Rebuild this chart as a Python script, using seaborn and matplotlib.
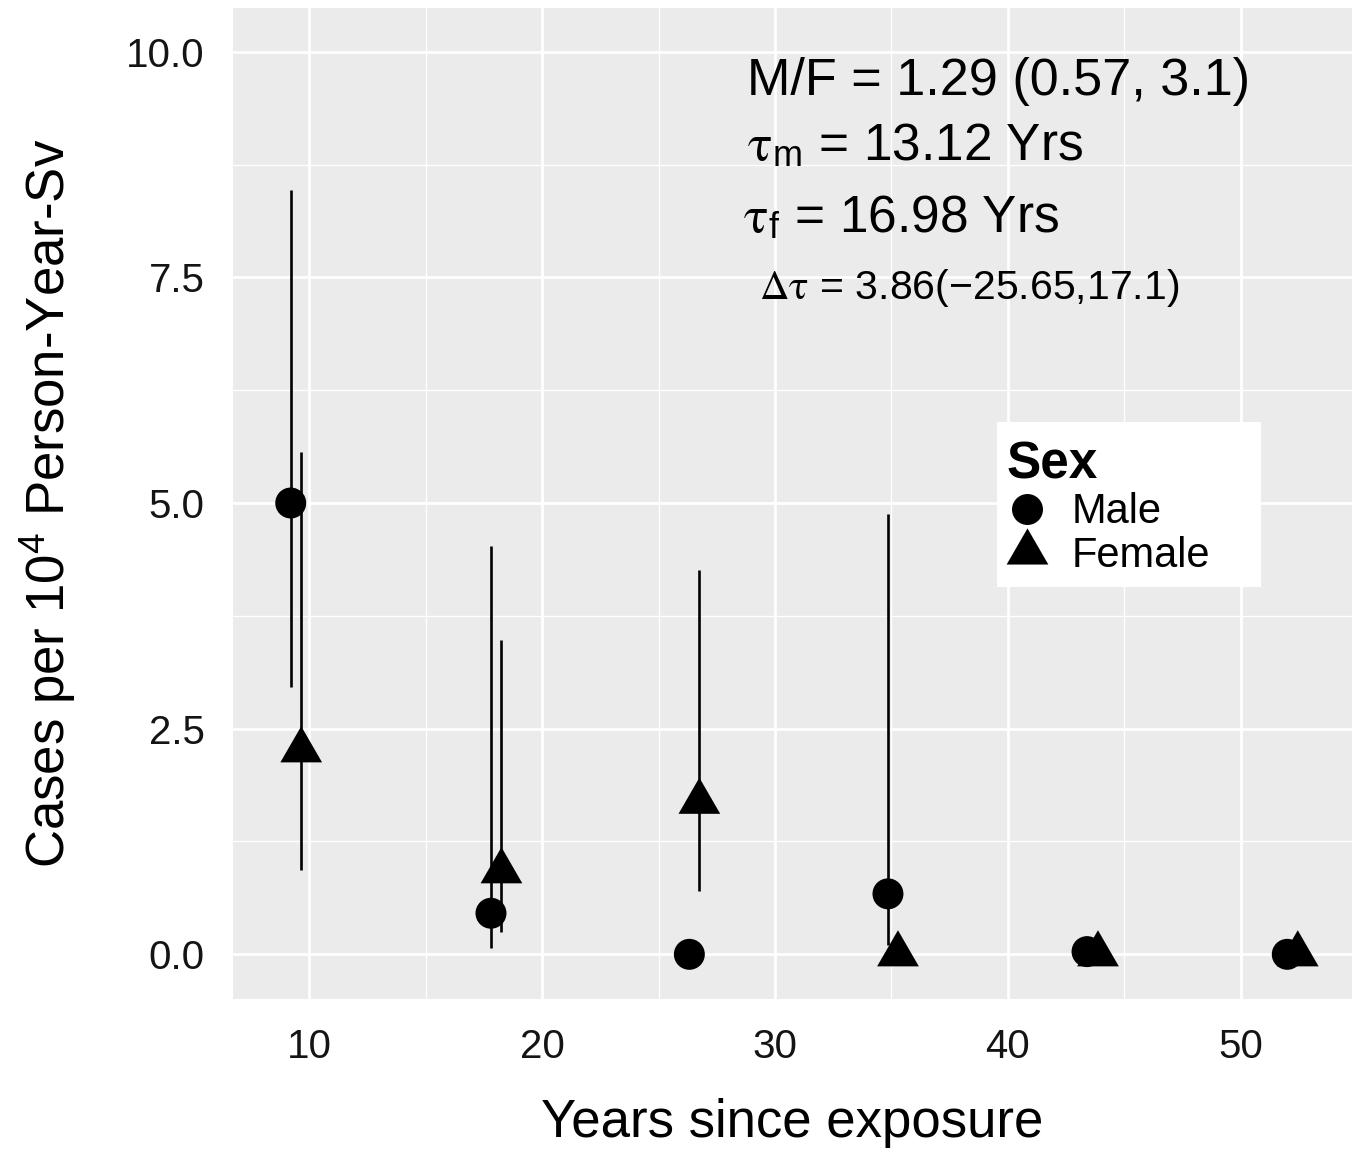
import numpy as np
import pandas as pd
import matplotlib
matplotlib.use("Agg")
import matplotlib.pyplot as plt
import seaborn as sns
from matplotlib.path import Path
from matplotlib.markers import MarkerStyle
from matplotlib.transforms import Affine2D
from matplotlib.lines import Line2D
from matplotlib.patches import Rectangle

# ---------------- data ----------------
sexes = ["Male", "Female"]
male_years = [9.20, 17.80, 26.32, 34.85, 43.40, 52.00]
male_rate = [5.00, 0.455, 0.00, 0.67, 0.03, 0.00]
male_lower = [2.96, 0.07, np.nan, 0.10, np.nan, np.nan]
male_upper = [8.47, 4.52, np.nan, 4.88, np.nan, np.nan]
female_years = [9.65, 18.25, 26.75, 35.28, 43.87, 52.45]
female_rate = [2.26, 0.92, 1.69, 0.00, 0.00, 0.00]
female_lower = [0.93, 0.25, 0.70, np.nan, np.nan, np.nan]
female_upper = [5.57, 3.48, 4.26, np.nan, np.nan, np.nan]

x_ticks = [10, 20, 30, 40, 50]
x_minor = [15, 25, 35, 45]
y_ticks = [0.0, 2.5, 5.0, 7.5, 10.0]
y_minor = [1.25, 3.75, 6.25, 8.75]
y_tick_labels = ["0.0", "2.5", "5.0", "7.5", "10.0"]

x_title = "Years since exposure"
y_title = r"Cases per 10$^{\mathdefault{4}}$ Person-Year-Sv"
legend_title = "Sex"
annot_mf = "M/F = 1.29 (0.57, 3.1)"
annot_tm = r"$\tau_{\mathdefault{m}}$ = 13.12 Yrs"
annot_tf = r"$\tau_{\mathdefault{f}}$ = 16.98 Yrs"
annot_dt = r"$\Delta\tau$ = 3.86(−25.65,17.1)"

# ---------------- style ----------------
sns.set_theme(style="darkgrid", rc={
    "axes.facecolor": "#EBEBEB",
    "grid.color": "white",
    "figure.facecolor": "white",
    "text.color": "black",
    "axes.labelcolor": "black",
})
plt.rcParams["font.family"] = ["Liberation Sans", "DejaVu Sans"]
plt.rcParams["mathtext.fontset"] = "stix"
plt.rcParams["mathtext.default"] = "rm"

df = pd.DataFrame({
    "Years": male_years + female_years,
    "Rate": male_rate + female_rate,
    "Sex": ["Male"] * len(male_years) + ["Female"] * len(female_years),
})

fig = plt.figure(figsize=(13.56, 11.49), dpi=100)
W, H = 1356, 1149
ax = fig.add_axes([233 / W, 1 - 999 / H, (1352 - 233) / W, (999 - 8) / H])

# equilateral triangle (centroid at the data point), like ggplot shape 17
s3 = np.sqrt(3)
tri_path = Path([(0, 1 / s3), (-0.5, -0.5 / s3), (0.5, -0.5 / s3), (0, 1 / s3)],
                [Path.MOVETO, Path.LINETO, Path.LINETO, Path.CLOSEPOLY])
circle_pt = 22.3
tri_marker = MarkerStyle(tri_path, transform=Affine2D().scale(34.7 / circle_pt))

# error bars
for xs, lo, hi in [(male_years, male_lower, male_upper),
                   (female_years, female_lower, female_upper)]:
    xs = np.asarray(xs); lo = np.asarray(lo); hi = np.asarray(hi)
    m = ~np.isnan(lo)
    ax.vlines(xs[m], lo[m], hi[m], colors="black", linewidth=1.9, zorder=2)

sns.scatterplot(data=df, x="Years", y="Rate", style="Sex",
                markers={"Male": "o", "Female": tri_marker},
                style_order=sexes, color="black", s=circle_pt ** 2,
                linewidth=0, legend=False, ax=ax, zorder=3)

ax.set_xlim(6.72, 54.78)
ax.set_ylim(-0.495, 10.484)
ax.set_xticks(x_ticks)
ax.set_xticklabels([str(v) for v in x_ticks])
ax.set_xticks(x_minor, minor=True)
ax.set_yticks(y_ticks)
ax.set_yticklabels(y_tick_labels)
ax.set_yticks(y_minor, minor=True)
ax.grid(which="major", color="white", linewidth=1.95)
ax.grid(which="minor", color="white", linewidth=0.95)
ax.set_axisbelow(True)
for sp in ax.spines.values():
    sp.set_visible(False)
ax.tick_params(which="minor", length=0)
ax.tick_params(which="major", length=8, width=1.4, color="#333333",
               labelsize=29, labelcolor="#141414")
ax.tick_params(axis="x", pad=13)
ax.tick_params(axis="y", pad=12.5)

ax.set_xlabel(x_title, fontsize=38, color="black")
ax.xaxis.set_label_coords(0.5, (999 - 1098) / 991)
ax.set_ylabel(y_title, fontsize=38, color="black")
ax.yaxis.set_label_coords((78 - 233) / 1119, 0.5)

# annotations
ax.text(28.80, 9.52, annot_mf, fontsize=37.5, ha="left", va="baseline", color="black")
ax.text(28.80, 8.80, annot_tm, fontsize=37, ha="left", va="baseline", color="black")
ax.text(28.62, 8.00, annot_tf, fontsize=37, ha="left", va="baseline", color="black")
ax.text(29.30, 7.26, annot_dt, fontsize=29.5, ha="left", va="baseline", color="black")

# legend box (white background) and legend content
ax.add_patch(Rectangle((997 / W, 1 - 587 / H), (1261 - 997) / W, (587 - 422) / H,
                       transform=fig.transFigure, facecolor="white",
                       edgecolor="none", zorder=4.5, clip_on=False))
handles = [
    Line2D([], [], marker="o", ls="none", color="black", markersize=circle_pt, markeredgewidth=0),
    Line2D([], [], marker=tri_marker, ls="none", color="black", markersize=circle_pt, markeredgewidth=0),
]
leg = ax.legend(handles, sexes, title=legend_title, loc="upper left",
                bbox_to_anchor=(1007 / W, 1 - 440 / H),
                bbox_transform=fig.transFigure, borderaxespad=0,
                frameon=False, fontsize=30,
                title_fontproperties={"weight": "bold", "size": 37},
                alignment="left", handlelength=0.96, handletextpad=0.6,
                borderpad=0, labelspacing=0.08, handleheight=0.7)
leg.get_title().set_color("black")
for t in leg.get_texts():
    t.set_color("black")
leg.set_zorder(5)

fig.savefig("out.png", dpi=100)
